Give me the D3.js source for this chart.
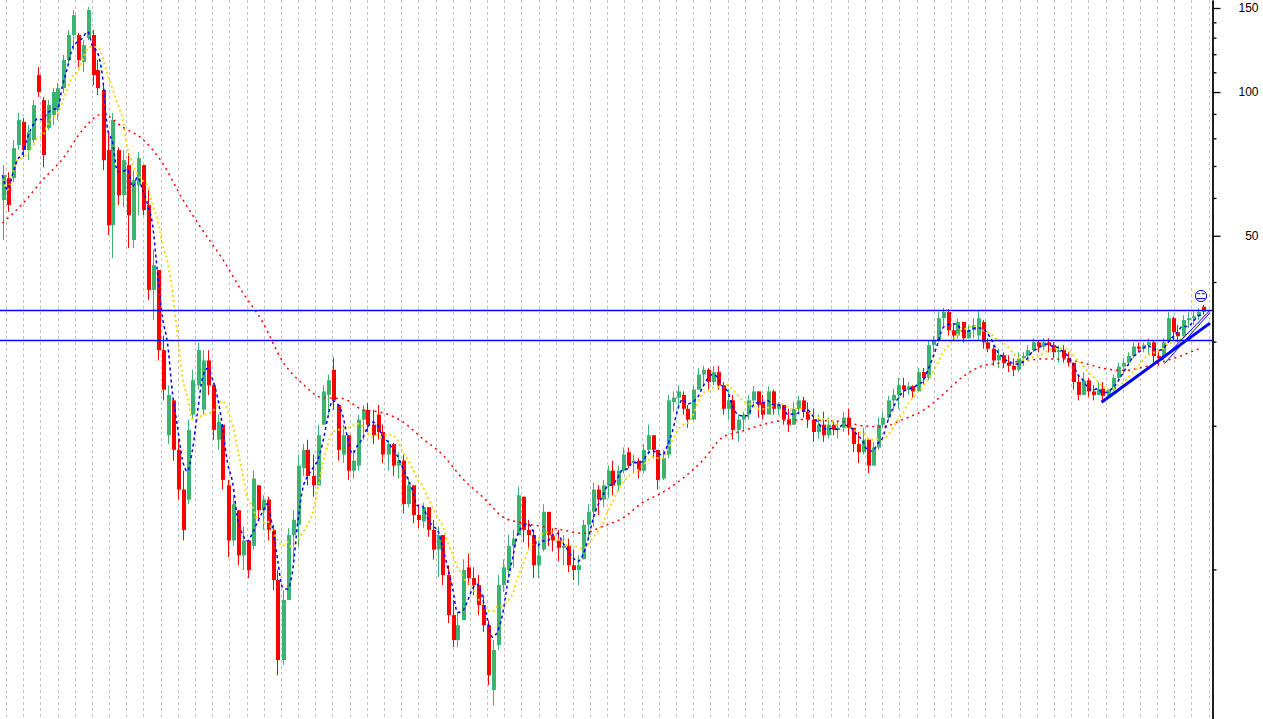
<!DOCTYPE html>
<html><head><meta charset="utf-8">
<script src="https://cdn.jsdelivr.net/npm/d3@7"></script>
<style>html,body{margin:0;padding:0;background:#fff;overflow:hidden}</style>
</head><body><svg id="c" width="1263" height="719"></svg>
<script>
// ---- data (bars) ----
const open=[59.4,66.0,66.0,77.4,86.6,75.6,79.3,108.5,96.2,84.1,
89.5,91.7,101.9,116.7,131.7,131.7,115.6,129.7,131.7,111.2,
101.0,75.6,52.6,75.6,60.8,70.3,49.0,63.8,70.3,58.0,
38.5,42.4,28.8,19.1,22.6,17.8,14.7,14.0,21.1,24.3,
21.6,27.4,24.3,18.7,20.1,15.0,11.5,13.3,10.7,11.5,
11.2,15.0,13.3,14.0,12.1,9.50,6.46,8.63,11.8,12.4,
16.3,17.8,15.7,15.0,20.1,23.2,26.2,22.1,17.4,19.1,
16.1,16.5,20.6,21.6,20.1,21.1,19.4,17.4,18.3,16.5,
16.9,13.7,15.0,13.0,12.6,13.5,12.1,11.0,11.8,9.73,
8.02,7.11,7.83,10.1,9.59,9.27,8.42,7.64,5.59,6.94,
9.27,9.97,11.2,11.8,14.2,12.1,11.8,10.2,11.0,13.2,
11.8,11.5,11.1,11.2,10.2,9.97,10.5,12.4,13.2,14.7,
14.0,15.0,16.1,15.0,16.1,17.6,16.7,16.9,16.1,17.8,
19.1,17.8,15.5,17.4,22.4,22.9,23.2,21.7,20.6,23.8,
25.6,26.2,24.7,25.9,24.3,21.7,22.6,19.6,20.6,21.1,
22.6,23.6,22.4,21.1,23.6,21.7,22.1,20.6,20.1,21.7,
22.6,21.4,20.6,19.4,20.1,19.1,20.1,19.6,19.8,20.8,
19.8,18.3,17.6,18.7,16.5,18.0,20.1,20.8,22.6,23.2,
24.3,23.8,24.2,23.6,25.9,25.2,29.5,30.2,33.6,34.6,
31.7,30.9,33.0,30.5,31.7,30.9,33.0,29.9,29.0,27.4,
28.1,27.1,26.7,26.2,27.7,28.0,28.8,29.9,29.3,29.9,
29.5,28.5,28.8,27.7,27.1,24.7,23.2,24.9,23.6,23.2,
23.9,23.1,23.8,25.2,26.6,27.1,28.0,29.3,29.0,29.5,
29.9,28.0,27.7,30.2,33.6,31.4,30.8,33.3,33.6,33.9,
35.5];
const high=[70.3,67.9,79.3,90.4,88.2,85.3,96.2,112.8,97.6,96.2,
101.9,104.5,119.6,134.9,148.5,133.0,128.5,150.7,134.9,116.7,
103.5,83.2,90.4,76.6,75.6,74.5,68.6,74.9,68.6,62.3,
46.7,42.4,30.9,24.3,22.6,18.7,16.1,20.6,26.2,29.8,
28.8,28.8,24.3,21.1,20.1,15.4,14.3,13.3,12.3,11.5,
16.1,15.0,14.3,14.2,12.4,9.97,9.05,12.2,13.3,17.4,
18.3,18.7,17.4,20.1,24.3,25.6,27.8,22.1,20.1,19.1,
17.8,21.1,22.1,22.3,21.6,22.1,20.1,18.7,18.4,17.6,
17.4,15.6,15.0,13.7,13.8,13.5,12.7,12.3,11.8,10.2,
8.63,8.14,10.5,10.8,10.1,9.73,8.83,7.83,7.11,9.73,
10.5,11.8,12.1,14.9,14.2,12.7,12.1,11.5,13.7,13.2,
12.2,12.1,11.8,11.6,11.0,10.7,12.7,13.7,15.2,15.0,
15.4,16.5,16.9,16.5,18.0,18.0,17.4,17.1,18.3,20.1,
19.1,17.8,17.8,23.2,23.6,24.3,23.6,22.1,24.3,26.4,
26.7,26.4,26.7,26.7,24.7,23.9,23.2,21.1,21.4,23.2,
24.2,23.6,23.2,24.2,23.8,22.4,22.1,21.7,22.4,23.1,
23.0,22.4,21.7,21.1,21.4,20.8,20.4,20.4,21.4,21.7,
19.8,19.4,19.8,18.7,18.5,20.8,21.4,23.1,23.9,25.2,
25.2,24.7,24.3,26.4,26.4,30.2,30.8,34.6,35.3,35.1,
32.5,33.6,33.0,32.5,33.6,34.9,33.3,30.5,29.5,29.0,
28.5,28.1,27.7,28.5,28.5,29.5,30.5,30.2,30.5,30.5,
29.9,29.5,29.5,28.5,27.1,25.6,25.9,25.2,24.3,24.7,
24.7,23.9,25.6,27.1,27.7,28.5,29.9,29.9,29.9,30.5,
30.2,28.8,30.5,34.6,33.9,32.5,34.1,34.6,34.7,35.3,
35.8];
const low=[49.0,56.1,64.8,75.6,73.1,72.0,77.4,97.6,69.6,83.2,
85.3,87.4,99.5,113.9,122.5,112.8,110.1,128.5,103.5,98.6,
68.6,50.2,44.9,58.0,57.4,47.1,47.1,55.2,55.2,36.7,
33.3,27.4,22.6,18.3,16.9,14.0,11.5,13.7,20.6,23.8,
21.1,23.2,18.7,17.8,14.7,10.6,11.2,10.2,9.97,9.59,
11.0,12.7,12.1,11.5,9.05,6.00,6.31,8.63,10.5,11.2,
15.7,15.0,14.2,15.0,20.1,21.1,21.6,16.9,16.7,15.4,
15.5,16.1,18.7,19.4,18.3,18.7,16.7,16.1,15.7,15.5,
13.1,13.5,12.5,12.2,12.2,11.7,10.5,9.64,9.27,7.72,
6.87,6.87,7.83,9.27,8.83,8.02,7.39,5.72,5.19,6.78,
8.96,9.59,10.1,11.8,11.4,11.0,9.59,9.59,10.9,11.2,
10.9,10.4,10.2,9.87,9.50,9.27,10.5,11.5,12.3,13.0,
13.5,14.1,14.3,14.6,15.9,16.3,15.9,15.5,15.9,17.4,
17.1,14.7,15.4,17.1,21.4,21.7,21.1,19.8,20.6,23.8,
24.3,23.8,24.3,23.8,21.1,20.6,18.7,18.5,19.6,20.6,
22.1,20.8,20.6,21.4,21.1,21.1,20.1,19.4,20.1,21.1,
20.8,19.8,18.5,18.8,18.5,18.8,19.1,18.8,19.4,19.1,
17.6,16.7,17.4,15.9,16.5,17.8,19.8,20.6,21.6,21.7,
22.9,23.2,22.9,23.6,24.4,24.9,28.5,29.9,32.0,30.9,
30.2,30.5,29.9,30.5,30.5,30.2,29.0,28.5,26.7,26.4,
26.4,25.9,25.4,25.9,26.7,27.7,28.5,28.5,28.8,28.5,
27.7,27.1,27.1,26.6,23.8,22.6,23.2,23.0,22.6,23.2,
22.4,22.8,23.6,24.7,25.6,26.7,27.7,28.5,28.5,28.1,
27.1,26.7,27.4,29.9,30.2,29.9,30.5,32.0,32.5,33.3,
34.2];
const close=[67.0,58.0,76.3,87.4,75.6,82.4,93.9,100.0,73.8,93.9,
100.0,101.9,116.7,131.7,144.9,116.7,125.4,148.5,108.5,101.9,
72.0,52.6,87.4,60.8,72.0,55.2,65.4,72.7,56.6,38.5,
43.4,28.8,23.8,23.2,17.8,14.7,12.1,19.6,24.9,28.8,
27.4,24.3,19.6,20.4,15.4,11.5,13.7,10.7,11.5,9.97,
15.5,13.3,14.0,12.1,9.50,6.46,8.63,11.8,12.7,16.5,
17.8,15.7,15.0,19.1,23.6,24.9,22.6,17.8,19.1,16.1,
16.9,20.6,21.6,20.1,19.1,19.4,17.4,18.3,16.5,16.9,
13.7,15.0,13.0,12.7,13.5,12.1,11.0,11.8,9.73,8.02,
7.11,7.64,9.97,9.59,9.27,8.42,7.64,6.00,6.78,9.27,
10.1,11.2,11.6,14.3,12.1,11.8,10.2,10.7,13.2,11.8,
11.5,11.1,11.2,10.2,9.97,10.2,12.4,13.2,14.7,14.0,
15.0,16.1,15.0,16.1,17.4,16.5,16.9,16.1,17.8,19.1,
17.8,15.4,17.1,22.6,22.9,23.6,21.7,20.6,23.8,25.6,
26.2,24.7,25.9,24.3,21.7,22.6,19.6,20.6,21.1,22.6,
23.6,22.1,21.1,23.6,21.7,22.1,20.6,20.1,21.7,22.6,
21.4,20.6,19.4,20.1,19.1,20.1,19.6,19.8,20.8,19.8,
18.3,17.6,18.7,16.5,18.0,20.1,20.8,22.6,23.2,24.3,
23.8,24.2,23.6,25.9,25.2,29.5,30.2,33.6,34.6,31.7,
30.9,33.0,30.5,31.7,32.5,33.6,29.9,29.0,27.4,28.1,
27.1,26.7,26.2,27.7,28.0,28.8,29.9,29.3,29.9,29.5,
28.5,28.8,27.7,27.1,24.7,23.2,24.9,23.6,23.2,23.9,
23.1,23.8,25.2,26.6,27.1,28.0,29.3,29.0,29.5,29.9,
28.0,27.7,29.9,33.6,31.4,30.8,33.3,33.6,33.9,34.6,
34.7];
// long moving average (one value every 4 bars)
const longMA=[53.2,58.3,65.4,72.4,83.2,89.9,84.5,79.7,71.0,59.7,
51.4,44.7,38.1,33.0,27.3,24.5,22.9,22.8,21.6,21.3,
20.4,18.8,17.4,15.5,14.2,12.9,12.5,12.3,12.1,11.9,
12.3,12.8,13.8,14.5,15.5,16.9,18.9,19.5,20.1,20.5,
20.6,20.5,20.4,20.0,19.9,20.6,21.5,23.2,25.3,26.7,
27.1,27.3,27.6,27.6,27.1,26.4,26.1,26.5,27.2,28.1,29.2];
const longMAStep=4;
const shortWin=4, midWin=8;
const levels=[34.9,30.2];
const trendThickIdx=[219.8,241.5], trendThickVal=[22.4,32.8];
const trendThinIdx=[231.8,241.5], trendThinVal=[27.4,34.9];
const trendThin2Idx=[232.4,241.5], trendThin2Val=[27.0,34.5];
const markerIdx=239.7, markerVal=37.4;
const gridStart=0.7, gridStep=3.436;
const majorTicks=[150,100,50];
const minorTicks=[140,130,120,110,90,80,70,60,40,30,20,10];

// ---- drawing ----
const W=1263,H=719,axisX=1212;
const svg=d3.select('#c');
const x=d3.scaleLinear().domain([0,240]).range([2.5,1202.5]);
const y=d3.scaleLog().domain([4.86,155.9]).range([H,0]);

// grid
svg.append('g').selectAll('line').data(d3.range(gridStart,241.6,gridStep)).join('line')
  .attr('x1',d=>Math.round(x(d))+0.5).attr('x2',d=>Math.round(x(d))+0.5)
  .attr('y1',0).attr('y2',H).attr('stroke','#c2c2c2').attr('stroke-width',1)
  .attr('stroke-dasharray','3,3');

// candles
const bars=d3.range(close.length);
const GREEN='#3cb371', RED='#ff0000';
const cg=svg.append('g');
cg.selectAll('line').data(bars).join('line')
  .attr('x1',i=>Math.round(x(i))+0.5).attr('x2',i=>Math.round(x(i))+0.5)
  .attr('y1',i=>y(high[i])).attr('y2',i=>y(low[i]))
  .attr('stroke',i=>close[i]>=open[i]?GREEN:RED).attr('stroke-width',1);
cg.selectAll('rect').data(bars).join('rect')
  .attr('x',i=>Math.round(x(i))-1).attr('width',4)
  .attr('y',i=>y(Math.max(open[i],close[i])))
  .attr('height',i=>Math.max(1,Math.abs(y(open[i])-y(close[i]))))
  .attr('fill',i=>close[i]>=open[i]?GREEN:RED);

// moving averages
function sma(a,w){return a.map((v,i)=>d3.mean(a.slice(Math.max(0,i-w+1),i+1)));}
const lineGen=d3.line().x(d=>x(d[0])).y(d=>y(d[1])).curve(d3.curveMonotoneX);
svg.append('path').datum(longMA.map((v,k)=>[k*longMAStep,v]))
  .attr('d',lineGen).attr('fill','none').attr('stroke','#ff0000')
  .attr('stroke-width',1.5).attr('stroke-dasharray','2,4');
svg.append('path').datum(sma(close,midWin).map((v,i)=>[i,v]))
  .attr('d',lineGen).attr('fill','none').attr('stroke','#ffd700')
  .attr('stroke-width',2).attr('stroke-dasharray','2,3');
svg.append('path').datum(sma(close,shortWin).map((v,i)=>[i,v]))
  .attr('d',lineGen).attr('fill','none').attr('stroke','#0000ff')
  .attr('stroke-width',1.5).attr('stroke-dasharray','3,3');

// horizontal levels
svg.append('g').selectAll('line').data(levels).join('line')
  .attr('x1',0).attr('x2',axisX).attr('y1',d=>Math.round(y(d))+0.5).attr('y2',d=>Math.round(y(d))+0.5)
  .attr('stroke','#0000ff').attr('stroke-width',1.3);

// trend lines
function seg(ix,vx,w){
  svg.append('line').attr('x1',x(ix[0])).attr('y1',y(vx[0]))
    .attr('x2',x(ix[1])).attr('y2',y(vx[1])).attr('stroke','#0000ff').attr('stroke-width',w);
}
seg(trendThickIdx,trendThickVal,3);
seg(trendThinIdx,trendThinVal,1);
seg(trendThin2Idx,trendThin2Val,1);

// marker
const m=svg.append('g').attr('transform',`translate(${x(markerIdx)},${y(markerVal)})`)
  .attr('stroke','#0000ff').attr('fill','none').attr('stroke-width',1);
m.append('circle').attr('r',5.6);
m.append('line').attr('x1',-3.7).attr('x2',-0.8).attr('y1',-2.2).attr('y2',-2.2);
m.append('line').attr('x1',0.8).attr('x2',3.7).attr('y1',-2.2).attr('y2',-2.2);
m.append('line').attr('x1',-4.3).attr('x2',4.3).attr('y1',2.6).attr('y2',2.6);

// axis
const ag=svg.append('g').attr('transform',`translate(${axisX+0.5},0)`);
ag.call(d3.axisRight(y).tickValues(minorTicks).tickSize(4).tickSizeOuter(0).tickFormat(''));
const ag2=svg.append('g').attr('transform',`translate(${axisX+0.5},0)`);
ag2.call(d3.axisRight(y).tickValues(majorTicks).tickSize(8).tickSizeOuter(0).tickFormat(d3.format('d')));
ag2.selectAll('text').attr('text-anchor','end').attr('x',46)
  .style('font-family','"Liberation Sans", Arial, sans-serif').style('font-size','12px').attr('fill','#000');
svg.selectAll('.domain').attr('stroke','#000').attr('stroke-width',1.3);
svg.selectAll('.tick line').attr('stroke','#000').attr('stroke-width',1.3);
</script></body></html>
